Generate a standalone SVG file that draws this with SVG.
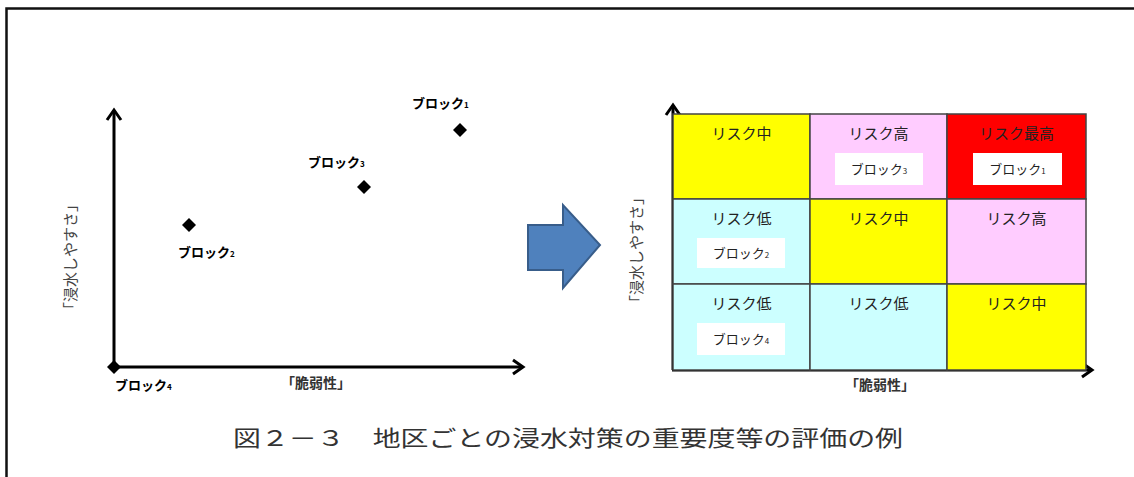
<svg xmlns="http://www.w3.org/2000/svg" width="1134" height="477" viewBox="0 0 1134 477">
<style>
.frame{stroke:#111;stroke-width:2.5;fill:none}
.axis{stroke:#000;stroke-width:3;fill:none}
.blk{font-family:"Noto Sans CJK JP",sans-serif;font-weight:bold;font-size:13px;fill:#000}
.sm{font-size:8px}
.cell{stroke:#444;stroke-width:1.5}
.risk{font-family:"Noto Sans CJK JP",sans-serif;font-size:15px;fill:#222;text-anchor:middle}
.box{fill:#fff}
.boxt{font-family:"Noto Sans CJK JP",sans-serif;font-size:13px;fill:#222;text-anchor:middle}
.ax{font-family:"Noto Sans CJK JP",sans-serif;font-size:14px;font-weight:bold;fill:#333;text-anchor:middle}
.yl{font-family:"Noto Sans CJK JP",sans-serif;font-size:15px;fill:#444;text-anchor:middle;dominant-baseline:central}
.cap{font-family:"Liberation Serif","Noto Sans CJK JP",serif;font-size:22px;fill:#333}
.dot{fill:#000}
</style>
<defs>
<marker id="arr" markerUnits="userSpaceOnUse" markerWidth="14" markerHeight="16" refX="11" refY="7" orient="auto" overflow="visible">
<path d="M1,0 L11,7 L1,14" fill="none" stroke="#000" stroke-width="3"/>
</marker>
</defs>
<g id="frame">
<path class="frame" d="M6.5,477 V8.5 H1134"/>
</g>
<g id="connectors">
<path class="axis" d="M114,367 V110" marker-end="url(#arr)"/>
<path class="axis" d="M112,367 H523" marker-end="url(#arr)"/>
<path class="axis" d="M673,370 V105" marker-end="url(#arr)"/>
<path class="axis" d="M672,370 H1092" marker-end="url(#arr)"/>
</g>
<g id="left-chart">
<g id="block1-point"><path class="dot" d="M460,123 L467,130 L460,137 L453,130 Z"/><text class="blk" x="412" y="108">ブロック<tspan class="sm">1</tspan></text></g>
<g id="block3-point"><path class="dot" d="M364,180 L371,187 L364,194 L357,187 Z"/><text class="blk" x="308" y="167">ブロック<tspan class="sm">3</tspan></text></g>
<g id="block2-point"><path class="dot" d="M189,218 L196,225 L189,232 L182,225 Z"/><text class="blk" x="178" y="257">ブロック<tspan class="sm">2</tspan></text></g>
<g id="block4-point"><path class="dot" d="M114,360 L121,367 L114,374 L107,367 Z"/><text class="blk" x="115" y="390">ブロック<tspan class="sm">4</tspan></text></g>
<g id="left-xlabel"><text class="ax" x="316" y="388">「脆弱性」</text></g>
<g id="left-ylabel"><text class="yl" transform="translate(69,257) rotate(-90)">「浸水しやすさ」</text></g>
</g>
<g id="big-arrow">
<path d="M528,225 H563 V205 L600,245 L563,288 V270 H528 Z" fill="#4F81BD" stroke="#385D8A" stroke-width="2"/>
</g>
<g id="right-chart">
<g id="c11"><rect class="cell" x="673" y="114" width="137" height="85" fill="#FFFF00"/><text class="risk" x="741.5" y="139">リスク中</text></g>
<g id="c12"><rect class="cell" x="810" y="114" width="137" height="85" fill="#FFCCFF"/><text class="risk" x="878.5" y="139">リスク高</text>
<rect class="box" x="835" y="153" width="88" height="32"/><text class="boxt" x="879" y="174">ブロック<tspan class="sm">3</tspan></text></g>
<g id="c13"><rect class="cell" x="947" y="114" width="139" height="85" fill="#FF0000"/><text class="risk" x="1016.5" y="139">リスク最高</text>
<rect class="box" x="973" y="153" width="89" height="32"/><text class="boxt" x="1017.5" y="174">ブロック<tspan class="sm">1</tspan></text></g>
<g id="c21"><rect class="cell" x="673" y="199" width="137" height="85" fill="#CCFFFF"/><text class="risk" x="741.5" y="224">リスク低</text>
<rect class="box" x="697" y="238" width="88" height="30"/><text class="boxt" x="741" y="258">ブロック<tspan class="sm">2</tspan></text></g>
<g id="c22"><rect class="cell" x="810" y="199" width="137" height="85" fill="#FFFF00"/><text class="risk" x="878.5" y="224">リスク中</text></g>
<g id="c23"><rect class="cell" x="947" y="199" width="139" height="85" fill="#FFCCFF"/><text class="risk" x="1016.5" y="224">リスク高</text></g>
<g id="c31"><rect class="cell" x="673" y="284" width="137" height="86" fill="#CCFFFF"/><text class="risk" x="741.5" y="309">リスク低</text>
<rect class="box" x="697" y="323" width="88" height="32"/><text class="boxt" x="741" y="344">ブロック<tspan class="sm">4</tspan></text></g>
<g id="c32"><rect class="cell" x="810" y="284" width="137" height="86" fill="#CCFFFF"/><text class="risk" x="878.5" y="309">リスク低</text></g>
<g id="c33"><rect class="cell" x="947" y="284" width="139" height="86" fill="#FFFF00"/><text class="risk" x="1016.5" y="309">リスク中</text></g>
<g id="right-xlabel"><text class="ax" x="880" y="390">「脆弱性」</text></g>
<g id="right-ylabel"><text class="yl" transform="translate(635,250) rotate(-90)">「浸水しやすさ」</text></g>
</g>
<g id="caption">
<text class="cap" x="233" y="446" textLength="670" lengthAdjust="spacingAndGlyphs">図２－３　地区ごとの浸水対策の重要度等の評価の例</text>
</g>
</svg>
